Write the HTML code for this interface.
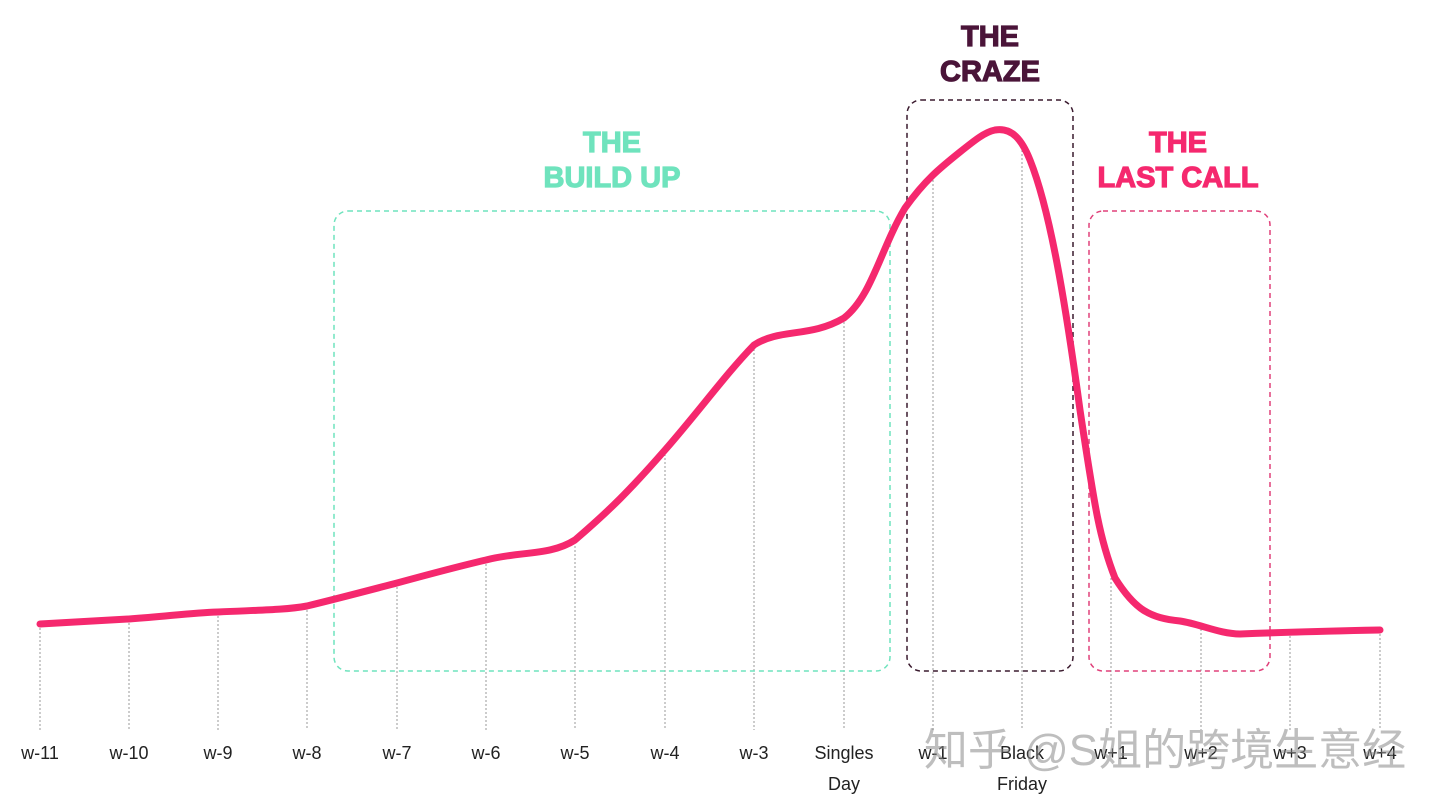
<!DOCTYPE html>
<html><head><meta charset="utf-8"><style>
html,body{margin:0;padding:0;background:#fff;}
svg{display:block}
</style></head><body>
<svg width="1440" height="808" viewBox="0 0 1440 808" xmlns="http://www.w3.org/2000/svg">
<g stroke="#999" stroke-width="1" stroke-dasharray="2,2">
<line x1="40" y1="624" x2="40" y2="730"/>
<line x1="129" y1="619" x2="129" y2="730"/>
<line x1="218" y1="612" x2="218" y2="730"/>
<line x1="307" y1="606" x2="307" y2="730"/>
<line x1="397" y1="583" x2="397" y2="730"/>
<line x1="486" y1="560" x2="486" y2="730"/>
<line x1="575" y1="542" x2="575" y2="730"/>
<line x1="665" y1="450" x2="665" y2="730"/>
<line x1="754" y1="345" x2="754" y2="730"/>
<line x1="844" y1="318" x2="844" y2="730"/>
<line x1="933" y1="180" x2="933" y2="730"/>
<line x1="1022" y1="150" x2="1022" y2="730"/>
<line x1="1111" y1="570" x2="1111" y2="730"/>
<line x1="1201" y1="625" x2="1201" y2="730"/>
<line x1="1290" y1="632" x2="1290" y2="730"/>
<line x1="1380" y1="630" x2="1380" y2="730"/>
</g>
<rect x="334" y="211" width="556" height="460" rx="14" fill="none" stroke="#6fe3bd" stroke-width="1.5" stroke-dasharray="5,4"/>
<rect x="907" y="100" width="166" height="571" rx="14" fill="none" stroke="#3a1a2e" stroke-width="1.5" stroke-dasharray="5,4"/>
<rect x="1089" y="211" width="181" height="460" rx="14" fill="none" stroke="#e0407a" stroke-width="1.5" stroke-dasharray="5,4"/>
<path d="M40,624 C90,621 110,620 129,619 C170,616 190,613 218,612 C260,610 285,610 307,606 C340,598 370,590 397,583 C430,574 460,566 486,560 C520,551 550,556 575,540 C610,510 630,490 665,450 C700,410 725,375 754,345 C780,328 810,338 844,318 C872,296 880,250 905,208 C925,180 940,168 960,152 C975,140 985,132 995,130 C1012,127 1022,140 1030,160 C1050,210 1065,300 1080,410 C1095,510 1100,540 1115,578 C1135,610 1150,618 1180,621 C1200,624 1220,634 1240,634 C1290,632 1330,631 1380,630" fill="none" stroke="#f5286e" stroke-width="7" stroke-linecap="round" stroke-linejoin="round"/>
<g font-family="Liberation Sans, sans-serif" font-weight="bold" font-size="29" text-anchor="middle" stroke-width="1.2">
<text x="612" y="152" fill="#6fe3bd" stroke="#6fe3bd">THE</text>
<text x="612" y="187" fill="#6fe3bd" stroke="#6fe3bd">BUILD UP</text>
<text x="990" y="46" fill="#4a1439" stroke="#4a1439">THE</text>
<text x="990" y="81" fill="#4a1439" stroke="#4a1439">CRAZE</text>
<text x="1178" y="152" fill="#f5286e" stroke="#f5286e">THE</text>
<text x="1178" y="187" fill="#f5286e" stroke="#f5286e">LAST CALL</text>
</g>
<g font-family="Liberation Sans, sans-serif" font-size="18" fill="#222" text-anchor="middle">
<text x="40" y="759">w-11</text><text x="129" y="759">w-10</text><text x="218" y="759">w-9</text>
<text x="307" y="759">w-8</text><text x="397" y="759">w-7</text><text x="486" y="759">w-6</text>
<text x="575" y="759">w-5</text><text x="665" y="759">w-4</text><text x="754" y="759">w-3</text>
<text x="844" y="759">Singles</text><text x="844" y="790">Day</text>
<text x="933" y="759">w-1</text><text x="1022" y="759">Black</text><text x="1022" y="790">Friday</text>
<text x="1111" y="759">w+1</text><text x="1201" y="759">w+2</text><text x="1290" y="759">w+3</text><text x="1380" y="759">w+4</text>
</g>
<text x="1165" y="765" text-anchor="middle" font-family="Liberation Sans, 'Noto Sans CJK SC', sans-serif" font-size="44" fill="#888" fill-opacity="0.55">知乎 @S姐的跨境生意经</text>
</svg>
</body></html>
